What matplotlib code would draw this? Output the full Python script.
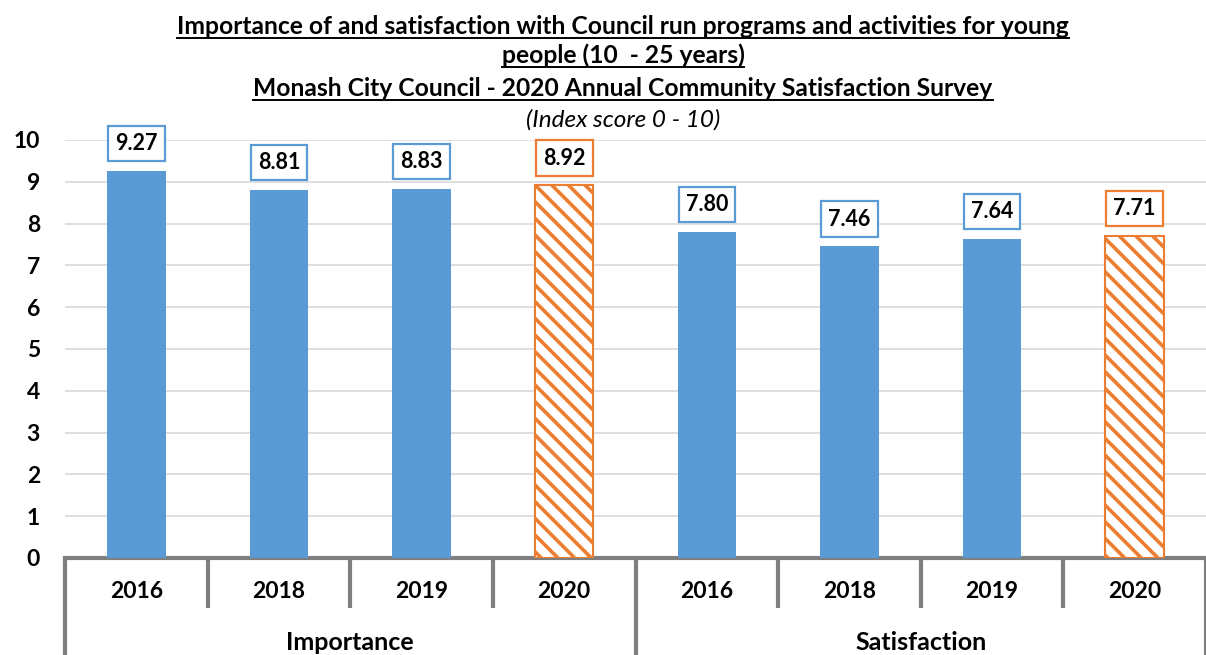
import matplotlib
matplotlib.use("Agg")
import matplotlib.pyplot as plt
import matplotlib.transforms as mtransforms
from matplotlib.lines import Line2D

# data
groups = ["Importance", "Satisfaction"]
years = ["2016", "2018", "2019", "2020"]
importance = [9.27, 8.81, 8.83, 8.92]
satisfaction = [7.80, 7.46, 7.64, 7.71]

blue = "#5b9bd5"
orange = "#ed7d31"
gray = "#7f7f7f"

plt.rcParams["font.family"] = ["Lato", "DejaVu Sans"]
plt.rcParams["hatch.linewidth"] = 2.6
plt.rcParams["hatch.color"] = orange

W, H = 1206, 655
fig = plt.figure(figsize=(W / 100, H / 100), dpi=100)
ax = fig.add_axes([65 / W, (H - 558) / H, 1 - 65 / W, (558 - 140) / H])

values = importance + satisfaction
n = len(values)
for i, v in enumerate(values):
    latest = years[i % len(years)] == "2020"
    col = orange if latest else blue
    if latest:
        ax.bar(i, v, width=0.41, facecolor="white", edgecolor=orange,
               hatch="\\\\", linewidth=1.5, zorder=3)
    else:
        ax.bar(i, v, width=0.41, color=blue, zorder=3)
    ax.annotate(f"{v:.2f}", (i, v), xytext=(0, 19.5), textcoords="offset points",
                ha="center", va="center", fontsize=15.5, fontweight="bold",
                annotation_clip=False,
                bbox=dict(boxstyle="square,pad=0.33", fc="white", ec=col, lw=1.6))

ax.set_xlim(-0.5, n - 0.5)
ax.set_ylim(0, 10)
ax.set_yticks(range(0, 11))
ax.tick_params(axis="y", length=0, pad=18, labelsize=16.5)
for t in ax.get_yticklabels():
    t.set_fontweight("bold")
ax.set_xticks([])
ax.grid(axis="y", color="#d9d9d9", linewidth=1.2, zorder=0)
for s in ["top", "right", "left"]:
    ax.spines[s].set_visible(False)
ax.spines["bottom"].set_color(gray)
ax.spines["bottom"].set_linewidth(3)

# category dividers and labels
trans = mtransforms.blended_transform_factory(ax.transData, ax.transAxes)
per = len(years)
for k in range(n + 1):
    xb = k - 0.5
    low = -0.232 if k % per == 0 else -0.1196
    ax.add_line(Line2D([xb, xb], [0, low], transform=trans, color=gray,
                       lw=3, clip_on=False, solid_capstyle="butt"))
for i in range(n):
    ax.text(i, -0.0813, years[i % per], transform=trans, ha="center", va="center",
            fontsize=16.5, fontweight="bold")
for g, name in enumerate(groups):
    ax.text(g * per + (per - 1) / 2, -0.201, name, transform=trans, ha="center",
            va="center", fontsize=18, fontweight="bold")

# title with underlines
title_lines = [
    "Importance of and satisfaction with Council run programs and activities for young",
    "people (10  - 25 years)",
    "Monash City Council - 2020 Annual Community Satisfaction Survey",
]
baselines = [34, 63, 96]
cx = 623 / W
texts = []
for line, yb in zip(title_lines, baselines):
    texts.append(fig.text(cx, 1 - yb / H, line, ha="center", va="baseline",
                          fontsize=17.7, fontweight="bold"))
fig.text(cx, 1 - 127 / H, "(Index score 0 - 10)", ha="center", va="baseline",
         fontsize=17.5, style="italic")

fig.canvas.draw()
r = fig.canvas.get_renderer()
for t, yb in zip(texts, baselines):
    bb = t.get_window_extent(r)
    yy = 1 - (yb + 3.5) / H
    fig.add_artist(Line2D([bb.x0 / W, bb.x1 / W], [yy, yy], color="black", lw=1.4,
                          transform=fig.transFigure))

fig.savefig("out.png", dpi=100)
